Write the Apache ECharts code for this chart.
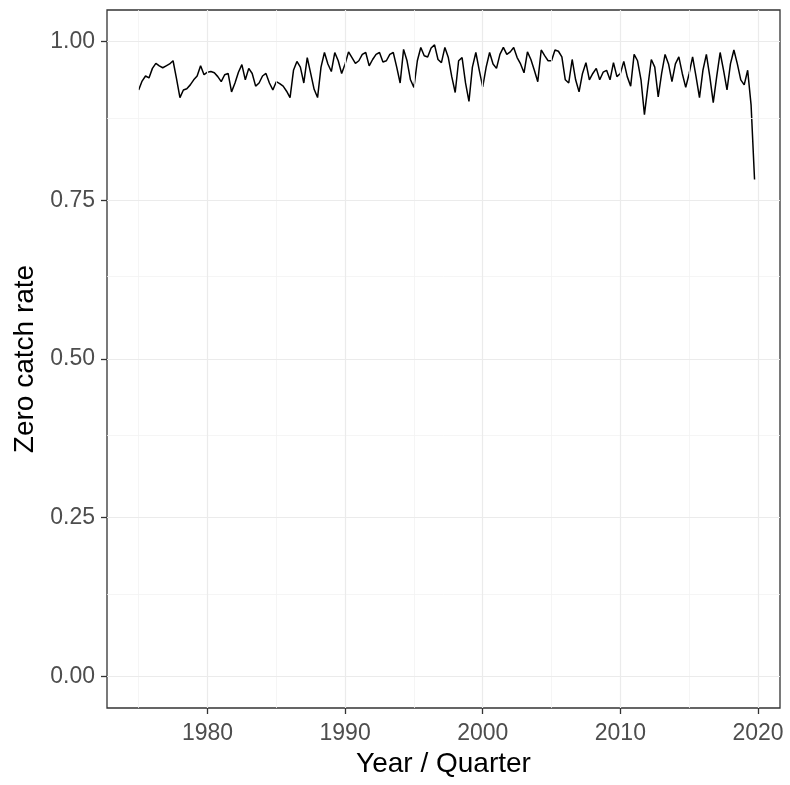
<!DOCTYPE html>
<html>
<head>
<meta charset="utf-8">
<script src="https://cdn.jsdelivr.net/npm/echarts@6/dist/echarts.min.js"></script>
<style>
  html, body { margin: 0; padding: 0; background: #fff; }
  #chart { width: 790px; height: 785px; }
</style>
</head>
<body>
<div id="chart"></div>
<script>
// quarterly zero catch rate, 1975 Q1 .. 2019 Q4
var startYear = 1975;
var zeroRate = [
  0.924, 0.938, 0.946, 0.943,  // 1975
  0.958, 0.966, 0.962, 0.959,
  0.962, 0.965, 0.970, 0.942,
  0.912, 0.924, 0.926, 0.932,
  0.940, 0.946, 0.962, 0.948,
  0.952, 0.953, 0.951, 0.945,  // 1980
  0.937, 0.948, 0.950, 0.921,
  0.935, 0.952, 0.964, 0.940,
  0.958, 0.950, 0.930, 0.935,
  0.946, 0.950, 0.935, 0.924,
  0.937, 0.934, 0.930, 0.922,  // 1985
  0.912, 0.955, 0.969, 0.960,
  0.935, 0.975, 0.950, 0.925,
  0.912, 0.960, 0.983, 0.965,
  0.953, 0.983, 0.970, 0.950,
  0.965, 0.984, 0.975, 0.966,  // 1990
  0.970, 0.980, 0.983, 0.962,
  0.972, 0.980, 0.983, 0.968,
  0.970, 0.980, 0.983, 0.960,
  0.935, 0.988, 0.970, 0.940,
  0.928, 0.970, 0.991, 0.978,  // 1995
  0.976, 0.990, 0.995, 0.972,
  0.967, 0.991, 0.975, 0.945,
  0.920, 0.970, 0.975, 0.935,
  0.906, 0.960, 0.983, 0.955,
  0.929, 0.960, 0.983, 0.965,  // 2000
  0.958, 0.980, 0.991, 0.980,
  0.984, 0.991, 0.975, 0.965,
  0.951, 0.984, 0.972, 0.955,
  0.937, 0.987, 0.978, 0.970,
  0.970, 0.987, 0.985, 0.976,  // 2005
  0.940, 0.935, 0.972, 0.940,
  0.921, 0.950, 0.967, 0.940,
  0.950, 0.958, 0.940, 0.952,
  0.955, 0.940, 0.967, 0.945,
  0.950, 0.969, 0.945, 0.930,  // 2010
  0.980, 0.970, 0.940, 0.885,
  0.930, 0.972, 0.960, 0.913,
  0.950, 0.980, 0.965, 0.937,
  0.965, 0.976, 0.950, 0.928,
  0.950, 0.976, 0.945, 0.912,  // 2015
  0.955, 0.980, 0.945, 0.904,
  0.945, 0.983, 0.955, 0.924,
  0.965, 0.987, 0.965, 0.940,
  0.932, 0.955, 0.900, 0.783   // 2019
];
var xTicks = [1980, 1990, 2000, 2010, 2020];
var xMinor = [1975, 1985, 1995, 2005, 2015];
var yTicks = [0, 0.25, 0.5, 0.75, 1];
var yMinor = [0.125, 0.375, 0.625, 0.875];

var chart = echarts.init(document.getElementById("chart"));

var lineData = zeroRate.map(function(v, i) {
  return [startYear + i / 4, v];
});

var minorStyle = { color: "#f2f2f2", width: 0.8, type: "solid" };
var majorStyle = { color: "#ebebeb", width: 1.2, type: "solid" };
var gridLines = [];
xMinor.forEach(function(v) { gridLines.push({ xAxis: v, lineStyle: minorStyle }); });
yMinor.forEach(function(v) { gridLines.push({ yAxis: v, lineStyle: minorStyle }); });
xTicks.forEach(function(v) { gridLines.push({ xAxis: v, lineStyle: majorStyle }); });
yTicks.forEach(function(v) { gridLines.push({ yAxis: v, lineStyle: majorStyle }); });

var option = {
  animation: false,
  backgroundColor: "#fff",
  textStyle: { fontFamily: "Liberation Sans, Arial, sans-serif" },
  grid: {
    left: 107,
    right: 10,
    top: 10,
    bottom: 77,
    show: true,
    borderColor: "#333",
    borderWidth: 1.3,
    backgroundColor: "transparent"
  },
  xAxis: {
    type: "value",
    min: 1972.7,
    max: 2021.6,
    name: "Year / Quarter",
    nameLocation: "middle",
    nameGap: 37,
    nameTextStyle: { fontSize: 28, color: "#000" },
    axisLine: { show: false, onZero: false },
    axisTick: { show: true, customValues: xTicks, length: 6, lineStyle: { color: "#333", width: 1.3 } },
    axisLabel: {
      customValues: xTicks,
      fontSize: 23,
      color: "#4d4d4d",
      margin: 14,
      formatter: function(v) { return String(v); }
    },
    splitLine: { show: false }
  },
  yAxis: {
    type: "value",
    min: -0.05,
    max: 1.05,
    name: "Zero catch rate",
    nameLocation: "middle",
    nameGap: 66,
    nameRotate: 90,
    nameTextStyle: { fontSize: 28, color: "#000" },
    axisLine: { show: false, onZero: false },
    axisTick: { show: true, customValues: yTicks, length: 6, lineStyle: { color: "#333", width: 1.3 } },
    axisLabel: {
      customValues: yTicks,
      fontSize: 23,
      color: "#4d4d4d",
      margin: 12,
      formatter: function(v) { return v.toFixed(2); }
    },
    splitLine: { show: false }
  },
  series: [
    {
      name: "grid",
      type: "line",
      data: [],
      z: 1,
      silent: true,
      markLine: {
        silent: true,
        symbol: "none",
        label: { show: false },
        data: gridLines
      }
    },
    {
      name: "Zero catch rate",
      type: "line",
      z: 3,
      data: lineData,
      showSymbol: false,
      lineStyle: { color: "#000", width: 1.5 }
    }
  ]
};
chart.setOption(option);
</script>
</body>
</html>
